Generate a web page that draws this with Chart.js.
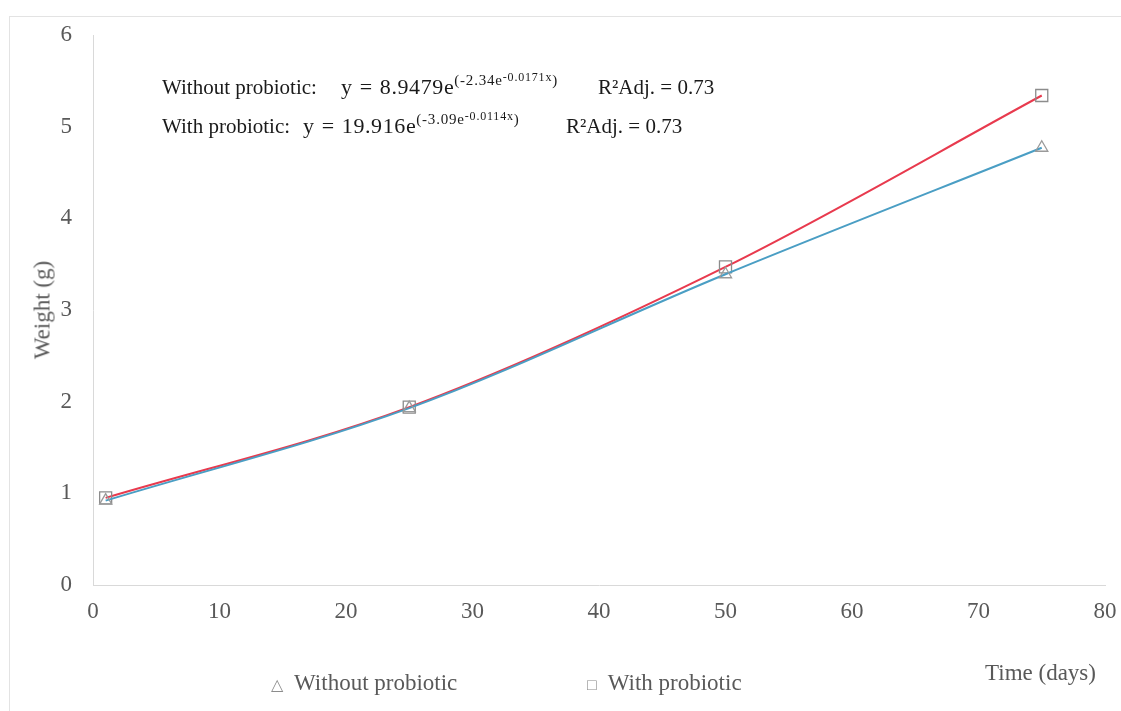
<!DOCTYPE html>
<html>
<head>
<meta charset="utf-8">
<script src="https://cdn.jsdelivr.net/npm/chart.js@4"></script>
<style>
  html, body { margin: 0; padding: 0; background: #fff; }
  #wrap { position: relative; width: 1121px; height: 711px; overflow: hidden; font-family: "Liberation Serif", "Times New Roman", serif; }
  #frame { position: absolute; left: 9px; top: 16px; width: 1120px; height: 700px; border-left: 1px solid #e3e3e3; border-top: 1px solid #e3e3e3; }
  canvas { position: absolute; left: 0; top: 0; }
  .t { position: absolute; white-space: nowrap; line-height: 1; }
  .eq { font-size: 21px; color: #1a1a1a; }
  .eqv { font-size: 22px; color: #1a1a1a; letter-spacing: 0.6px; word-spacing: 1px; }
  .sup { font-size: 15px; position: relative; top: -9px; letter-spacing: 0.8px; }
  .sup2 { font-size: 12px; position: relative; top: -4px; }
  .gray { color: #595959; font-size: 23px; }
  .sym { font-size: 16px; color: #8c8c8c; }
</style>
</head>
<body>
<div id="wrap">
  <div id="frame"></div>
  <canvas id="c" width="1121" height="711"></canvas>
  <div class="t eq" style="left:162px; top:77px;">Without probiotic:</div>
  <div class="t eqv" style="left:341px; top:76px;">y = 8.9479e<span class="sup">(-2.34e<span class="sup2">-0.0171x</span>)</span></div>
  <div class="t eq" style="left:598px; top:77px;">R²Adj. = 0.73</div>
  <div class="t eq" style="left:162px; top:116px;">With probiotic:</div>
  <div class="t eqv" style="left:303px; top:115px;">y = 19.916e<span class="sup">(-3.09e<span class="sup2">-0.0114x</span>)</span></div>
  <div class="t eq" style="left:566px; top:116px;">R²Adj. = 0.73</div>
  <div class="t gray" style="left:42px; top:310px; transform: translate(-50%,-50%) rotate(-90deg);">Weight (g)</div>
  <div class="t gray" style="left:985px; top:661px;">Time (days)</div>
  <div class="t gray" style="left:271px; top:671px;"><span class="sym">△</span>&nbsp; Without probiotic</div>
  <div class="t gray" style="left:587px; top:671px;"><span class="sym">□</span>&nbsp; With probiotic</div>
</div>
<script>
const days = [1, 25, 50, 75];
const withoutProbiotic = [0.92, 1.93, 3.39, 4.77];
const withProbiotic = [0.95, 1.94, 3.47, 5.34];
const xTicks = [0, 10, 20, 30, 40, 50, 60, 70, 80];
const yTicks = [0, 1, 2, 3, 4, 5, 6];

const toXY = (xs, ys) => xs.map((x, i) => ({ x: x, y: ys[i] }));

new Chart(document.getElementById('c'), {
  type: 'line',
  data: {
    datasets: [
      {
        label: 'Without probiotic',
        data: toXY(days, withoutProbiotic),
        borderColor: '#4a9ec4',
        borderWidth: 2,
        cubicInterpolationMode: 'monotone',
        pointStyle: 'triangle',
        pointRadius: 7,
        pointBorderColor: '#9a9a9a',
        pointBackgroundColor: 'rgba(255,255,255,0)',
        pointBorderWidth: 1.3,
        fill: false
      },
      {
        label: 'With probiotic',
        data: toXY(days, withProbiotic),
        borderColor: '#e83a4e',
        borderWidth: 2,
        cubicInterpolationMode: 'monotone',
        pointStyle: 'rect',
        pointRadius: 8.5,
        pointBorderColor: '#8c8c8c',
        pointBackgroundColor: 'rgba(255,255,255,0)',
        pointBorderWidth: 1.3,
        fill: false
      }
    ]
  },
  options: {
    responsive: false,
    animation: false,
    layout: { padding: { left: 0, right: 16, top: 35, bottom: 0 } },
    plugins: { legend: { display: false }, tooltip: { enabled: false } },
    scales: {
      x: {
        type: 'linear',
        min: 0, max: 80,
        afterFit: (s) => { s.height = 126; s.paddingLeft = 0; s.paddingRight = 0; },
        afterBuildTicks: (s) => { s.ticks = xTicks.map(v => ({ value: v })); },
        grid: { display: false, drawTicks: false },
        border: { display: true, color: '#d9d9d9', width: 1 },
        ticks: { padding: 13, color: '#595959', font: { family: 'Liberation Serif', size: 23 }, maxRotation: 0 }
      },
      y: {
        min: 0, max: 6,
        afterFit: (s) => { s.width = 93; s.paddingTop = 0; s.paddingBottom = 0; },
        afterBuildTicks: (s) => { s.ticks = yTicks.map(v => ({ value: v })); },
        grid: { display: false, drawTicks: false },
        border: { display: true, color: '#d9d9d9', width: 1 },
        ticks: { padding: 21, color: '#595959', font: { family: 'Liberation Serif', size: 23 } }
      }
    }
  }
});
</script>
</body>
</html>
